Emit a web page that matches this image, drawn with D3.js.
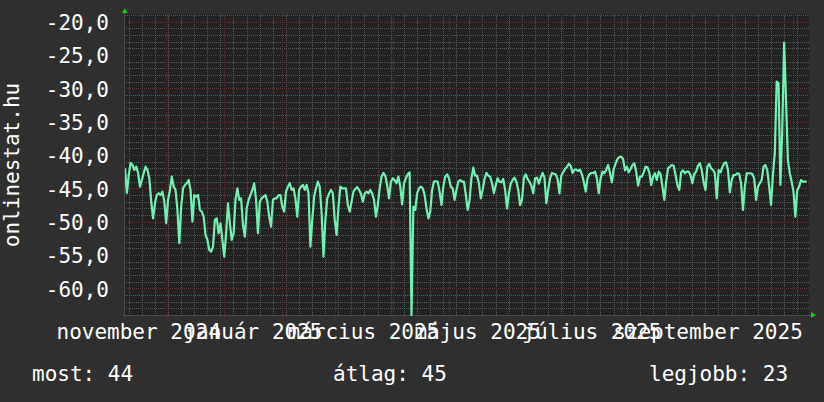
<!DOCTYPE html>
<html>
<head>
<meta charset="utf-8">
<script src="https://cdn.jsdelivr.net/npm/d3@7"></script>
<style>
  html, body { margin: 0; padding: 0; background: #2f2f2f; }
  svg { display: block; }
  text { font-family: "DejaVu Sans Mono", monospace; fill: #ffffff; }
</style>
</head>
<body>
<svg id="chart" width="824" height="402"></svg>
<script>
// ---- data ----
const seriesStart = "2024-11-09T02:30:00Z"; // first daily sample
const domainEnd = "2025-11-09T09:00:00Z";
const values = [
  -42.0, -45.7, -43.0, -41.2, -41.5, -42.25, -41.75, -42.7, -44.75, -43.75,
  -42.7, -41.75, -42.25, -43.5, -47.0, -49.5, -47.24, -46.0, -45.74, -46.0,
  -45.5, -47.0, -50.24, -46.74, -45.24, -43.25, -44.75, -45.24, -48.24, -53.24,
  -47.75, -45.0, -44.5, -44.24, -43.75, -45.24, -50.0, -46.0, -46.25, -46.0,
  -48.24, -48.5, -49.25, -52.0, -52.74, -54.25, -54.5, -53.75, -49.74, -49.5,
  -51.74, -50.24, -52.74, -55.25, -51.74, -47.24, -50.24, -52.74, -51.74, -46.74,
  -45.0, -46.74, -46.5, -50.5, -52.25, -48.0, -46.74, -46.0, -45.24, -44.24,
  -46.74, -51.74, -47.0, -46.5, -46.25, -46.0, -47.0, -49.25, -50.75, -46.74,
  -46.5, -46.5, -46.0, -46.0, -47.75, -48.5, -45.5, -44.75, -44.24, -45.24,
  -45.0, -46.5, -49.25, -45.24, -44.75, -44.5, -45.24, -44.5, -45.74, -53.75,
  -49.74, -46.25, -45.0, -44.0, -44.75, -48.74, -55.25, -49.74, -46.5, -45.74,
  -45.24, -45.74, -49.74, -52.0, -47.75, -44.75, -45.0, -45.0, -45.0, -47.5,
  -48.5, -47.0, -45.5, -45.1, -44.8, -45.24, -45.8, -47.0, -45.8, -45.5,
  -45.74, -45.24, -45.8, -46.74, -49.25, -47.5, -45.0, -43.25, -42.7, -43.1,
  -44.5, -46.5, -44.0, -43.5, -43.75, -44.24, -43.25, -44.75, -47.4, -44.24,
  -43.5, -42.9, -42.6, -64.0, -47.75, -48.24, -45.74, -45.0, -44.75, -45.0,
  -46.0, -48.0, -49.5, -48.5, -45.24, -44.0, -43.9, -44.0, -45.5, -47.5,
  -44.75, -43.25, -42.9, -43.5, -44.75, -45.0, -46.74, -45.24, -44.0, -43.75,
  -44.0, -44.0, -46.0, -48.24, -46.74, -43.5, -41.9, -43.1, -43.1, -44.24,
  -46.5, -45.24, -43.6, -42.7, -43.1, -43.25, -44.24, -45.74, -44.5, -43.5,
  -44.0, -44.1, -43.6, -45.24, -48.0, -45.74, -44.3, -43.75, -43.4, -44.0,
  -45.24, -47.5, -46.74, -43.5, -42.9, -43.6, -44.0, -44.6, -45.74, -43.5,
  -43.4, -44.3, -43.4, -42.7, -43.4, -47.24, -45.24, -43.5, -42.7, -42.8,
  -42.9, -43.6, -45.74, -43.1, -42.6, -42.1, -41.8, -41.3, -41.6, -42.7,
  -42.2, -42.2, -42.4, -42.2, -42.9, -44.0, -45.5, -43.5, -42.9, -42.7,
  -42.7, -42.5, -43.5, -45.74, -43.5, -42.5, -42.7, -42.2, -41.5, -42.7,
  -44.1, -42.1, -41.3, -40.6, -40.3, -40.25, -40.6, -42.3, -41.75, -42.6,
  -42.1, -41.5, -41.25, -42.5, -44.6, -43.25, -43.25, -42.6, -41.75, -41.85,
  -42.6, -44.5, -43.25, -42.74, -43.75, -42.5, -42.85, -44.75, -46.74, -44.0,
  -42.0, -41.75, -41.5, -41.6, -43.0, -44.5, -45.24, -42.6, -42.3, -42.74,
  -42.5, -42.5, -43.0, -44.24, -42.85, -42.5, -41.6, -41.24, -42.25, -44.1,
  -45.24, -41.75, -41.35, -42.0, -42.25, -42.74, -46.5, -42.25, -42.6, -41.85,
  -41.24, -41.1, -42.25, -45.6, -43.75, -43.0, -43.0, -42.74, -42.85, -44.24,
  -48.24, -44.75, -42.74, -42.74, -42.74, -42.85, -43.5, -46.74, -44.75, -44.24,
  -43.75, -41.75, -41.5, -42.3, -44.75, -47.5, -43.0, -39.74, -29.0, -29.25,
  -44.5, -36.0, -23.15, -31.7, -40.74, -42.74, -44.0, -45.5, -49.25, -45.24,
  -44.75, -43.75, -44.0, -44.0, -44.0
];
const yTickValues = [-60, -55, -50, -45, -40, -35, -30, -25, -20];
const yTickLabels = ["-60,0", "-55,0", "-50,0", "-45,0", "-40,0", "-35,0", "-30,0", "-25,0", "-20,0"];
const xLabelMonths = ["2024-11-01", "2025-01-01", "2025-03-01", "2025-05-01", "2025-07-01", "2025-09-01"];
const xLabelTexts = ["november 2024", "január 2025", "március 2025", "május 2025", "július 2025", "szeptember 2025"];
const yTitle = "onlinestat.hu";
const legendLabels = ["most:", "átlag:", "legjobb:"];
const legendValues = [44, 45, 23];

// ---- layout ----
const svg = d3.select("#chart");
const L = 125, R = 809, T = 14, B = 315;
const t0 = new Date(seriesStart);
const tEnd = new Date(domainEnd);
const data = values.map((v, i) => ({ date: d3.utcDay.offset(t0, i), v }));
const x = d3.scaleUtc().domain([t0, tEnd]).range([L, R]);
const y = d3.scaleLinear().domain([-64, -18.85]).range([B, T]);

// dotted patterns (checkerboard, so any 1px row/column gets every other pixel)
const defs = svg.append("defs");
function dotPattern(id, color) {
  const p = defs.append("pattern").attr("id", id).attr("patternUnits", "userSpaceOnUse")
    .attr("width", 2).attr("height", 2);
  p.append("rect").attr("x", 0).attr("y", 0).attr("width", 1).attr("height", 1).attr("fill", color);
  p.append("rect").attr("x", 1).attr("y", 1).attr("width", 1).attr("height", 1).attr("fill", color);
}
dotPattern("dotMinor", "#5a5a5a");
dotPattern("dotMajor", "#642f2f");

svg.append("rect").attr("width", 824).attr("height", 402).attr("fill", "#2f2f2f");
svg.append("rect").attr("x", L).attr("y", T).attr("width", R - L).attr("height", B - T).attr("fill", "#222222");

const grid = svg.append("g").attr("shape-rendering", "crispEdges");
// minor horizontal (every 1 unit)
const minorY = d3.range(-63, -18, 1).filter(v => v % 5 !== 0);
grid.append("g").selectAll("rect").data(minorY).join("rect")
  .attr("x", L).attr("width", R - L).attr("y", d => Math.round(y(d))).attr("height", 1)
  .attr("fill", "url(#dotMinor)");
// minor vertical (weekly, Mondays)
const weeks = d3.utcMonday.range(t0, tEnd);
grid.append("g").selectAll("rect").data(weeks).join("rect")
  .attr("x", d => Math.round(x(d))).attr("width", 1).attr("y", T).attr("height", B - T)
  .attr("fill", "url(#dotMinor)");
// major horizontal (every 5 units)
grid.append("g").selectAll("rect").data(yTickValues).join("rect")
  .attr("x", L - 2).attr("width", R - L + 2).attr("y", d => Math.round(y(d))).attr("height", 1)
  .attr("fill", "url(#dotMajor)");
// major vertical (month starts)
const months = d3.utcMonth.range(t0, tEnd);
grid.append("g").selectAll("rect").data(months).join("rect")
  .attr("x", d => Math.round(x(d))).attr("width", 1).attr("y", T).attr("height", B - T + 4)
  .attr("fill", "url(#dotMajor)");

// axes lines
svg.append("line").attr("x1", L - 0.5).attr("x2", L - 0.5).attr("y1", T - 2).attr("y2", B + 2)
  .attr("stroke", "#4a4a4a").attr("stroke-width", 1);
svg.append("line").attr("x1", L - 2).attr("x2", R + 3).attr("y1", B + 0.5).attr("y2", B + 0.5)
  .attr("stroke", "#4a4a4a").attr("stroke-width", 1);
// arrows
svg.append("path").attr("d", `M${L - 3},${T - 1} L${L + 2.5},${T - 1} L${L - 0.3},${T - 6} Z`).attr("fill", "#00dd00");
svg.append("path").attr("d", `M${R + 2},${B - 3} L${R + 2},${B + 3} L${R + 7},${B} Z`).attr("fill", "#00dd00");

// line
svg.append("clipPath").attr("id", "clip").append("rect")
  .attr("x", L).attr("y", T).attr("width", R - L).attr("height", B - T + 1);
svg.append("path").datum(data)
  .attr("clip-path", "url(#clip)")
  .attr("fill", "none").attr("stroke", "#6ff2b2").attr("stroke-width", 2.2)
  .attr("stroke-linejoin", "round")
  .attr("d", d3.line().x(d => x(d.date)).y(d => y(d.v)));

// y labels
svg.append("g").selectAll("text").data(yTickValues).join("text")
  .attr("x", 109).attr("y", d => y(d) + 8.3)
  .attr("text-anchor", "end").attr("font-size", 21)
  .text((d, i) => yTickLabels[i]);

// y title
svg.append("text").attr("transform", "translate(19,165) rotate(-90)")
  .attr("text-anchor", "middle").attr("font-size", 21).text(yTitle);

// x labels (centered half a month after the month start, as in the original)
svg.append("g").selectAll("text").data(xLabelMonths).join("text")
  .attr("x", d => x(d3.utcHour.offset(new Date(d + "T00:00:00Z"), 15 * 24 + 10)))
  .attr("y", 339).attr("text-anchor", "middle").attr("font-size", 21)
  .text((d, i) => xLabelTexts[i]);

// legend
const legendX = [32, 333, 649];
svg.append("g").selectAll("text").data(legendLabels).join("text")
  .attr("x", (d, i) => legendX[i]).attr("y", 381).attr("font-size", 21)
  .text((d, i) => d + " " + legendValues[i]);
</script>
</body>
</html>
